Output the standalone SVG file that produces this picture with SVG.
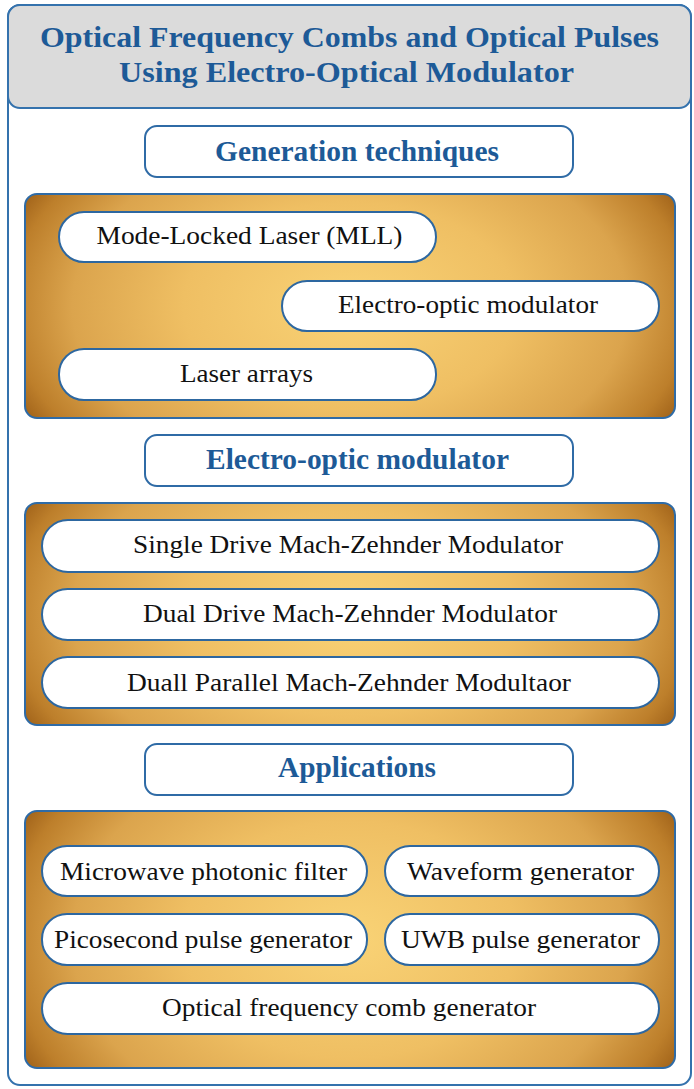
<svg xmlns="http://www.w3.org/2000/svg" width="694" height="1089" viewBox="0 0 694 1089">
<defs>
<radialGradient id="gold" cx="0.5" cy="0.5" r="0.57" gradientTransform="translate(0.5 0.5) scale(1 1.8) translate(-0.5 -0.5)">
<stop offset="0" stop-color="#f9d376"/>
<stop offset="0.45" stop-color="#efbf63"/>
<stop offset="0.75" stop-color="#dba44d"/>
<stop offset="0.92" stop-color="#bd7f2b"/>
<stop offset="1" stop-color="#a06219"/>
</radialGradient>
<style>
.frame{fill:#ffffff;stroke:#3472ad;stroke-width:2}
.titlebox{fill:#dbdbdb;stroke:#3472ad;stroke-width:2}
.head{fill:#ffffff;stroke:#2f6ba6;stroke-width:2}
.panel{fill:url(#gold);stroke:#2f6ba6;stroke-width:2}
.pill{fill:#ffffff;stroke:#2d67a0;stroke-width:2}
.t{font-family:"Liberation Serif","Times New Roman",serif;text-anchor:middle}
.ht{font-weight:bold;fill:#1d5a97;font-size:29px}
.nt{fill:#111111;font-size:26px}
</style>
</defs>
<g id="outer">
<rect class="frame" x="8" y="5" width="683" height="1080" rx="12"/>
</g>
<g id="title">
<rect class="titlebox" x="8" y="5" width="683" height="103" rx="12"/>
<text class="t ht" x="349.5" y="47" font-size="31" textLength="619" lengthAdjust="spacingAndGlyphs">Optical Frequency Combs and Optical Pulses</text>
<text class="t ht" x="346.5" y="82" font-size="31" textLength="455" lengthAdjust="spacingAndGlyphs">Using Electro-Optical Modulator</text>
</g>
<g id="head-generation">
<rect class="head" x="145" y="126" width="428" height="51" rx="12"/>
<text class="t ht" x="357" y="161" textLength="284" lengthAdjust="spacingAndGlyphs">Generation techniques</text>
</g>
<g id="panel-generation">
<rect class="panel" x="25" y="194" width="650" height="224" rx="12"/>
</g>
<g id="node-mll">
<rect class="pill" x="59" y="212" width="377" height="50" rx="25"/>
<text class="t nt" x="249.5" y="244" textLength="306" lengthAdjust="spacingAndGlyphs">Mode-Locked Laser (MLL)</text>
</g>
<g id="node-eom1">
<rect class="pill" x="282" y="281" width="377" height="50" rx="25"/>
<text class="t nt" x="468" y="313" textLength="260" lengthAdjust="spacingAndGlyphs">Electro-optic modulator</text>
</g>
<g id="node-laser-arrays">
<rect class="pill" x="59" y="349" width="377" height="51" rx="25"/>
<text class="t nt" x="246.5" y="382" textLength="133" lengthAdjust="spacingAndGlyphs">Laser arrays</text>
</g>
<g id="head-eom">
<rect class="head" x="145" y="435" width="428" height="51" rx="12"/>
<text class="t ht" x="357.5" y="469" textLength="303" lengthAdjust="spacingAndGlyphs">Electro-optic modulator</text>
</g>
<g id="panel-eom">
<rect class="panel" x="25" y="503" width="650" height="222" rx="12"/>
</g>
<g id="node-sdmzm">
<rect class="pill" x="42" y="520" width="617" height="52" rx="26"/>
<text class="t nt" x="348" y="553" textLength="430" lengthAdjust="spacingAndGlyphs">Single Drive Mach-Zehnder Modulator</text>
</g>
<g id="node-ddmzm">
<rect class="pill" x="42" y="589" width="617" height="51" rx="25.5"/>
<text class="t nt" x="350" y="622" textLength="414" lengthAdjust="spacingAndGlyphs">Dual Drive Mach-Zehnder Modulator</text>
</g>
<g id="node-dpmzm">
<rect class="pill" x="42" y="657" width="617" height="51" rx="25.5"/>
<text class="t nt" x="349" y="691" textLength="444" lengthAdjust="spacingAndGlyphs">Duall Parallel Mach-Zehnder Modultaor</text>
</g>
<g id="head-applications">
<rect class="head" x="145" y="744" width="428" height="51" rx="12"/>
<text class="t ht" x="357" y="777" textLength="158" lengthAdjust="spacingAndGlyphs">Applications</text>
</g>
<g id="panel-applications">
<rect class="panel" x="25" y="811" width="650" height="257" rx="12"/>
</g>
<g id="node-mpf">
<rect class="pill" x="42" y="846" width="325" height="50" rx="25"/>
<text class="t nt" x="203.5" y="880" textLength="287" lengthAdjust="spacingAndGlyphs">Microwave photonic filter</text>
</g>
<g id="node-waveform">
<rect class="pill" x="385" y="846" width="274" height="50" rx="25"/>
<text class="t nt" x="520.5" y="880" textLength="227" lengthAdjust="spacingAndGlyphs">Waveform generator</text>
</g>
<g id="node-picosecond">
<rect class="pill" x="42" y="914" width="325" height="51" rx="25"/>
<text class="t nt" x="203" y="948" textLength="298" lengthAdjust="spacingAndGlyphs">Picosecond pulse generator</text>
</g>
<g id="node-uwb">
<rect class="pill" x="385" y="914" width="274" height="51" rx="25"/>
<text class="t nt" x="520.5" y="948" textLength="239" lengthAdjust="spacingAndGlyphs">UWB pulse generator</text>
</g>
<g id="node-ofcg">
<rect class="pill" x="42" y="983" width="617" height="51" rx="25.5"/>
<text class="t nt" x="349" y="1016" textLength="374" lengthAdjust="spacingAndGlyphs">Optical frequency comb generator</text>
</g>
<g id="connectors"/>
</svg>
